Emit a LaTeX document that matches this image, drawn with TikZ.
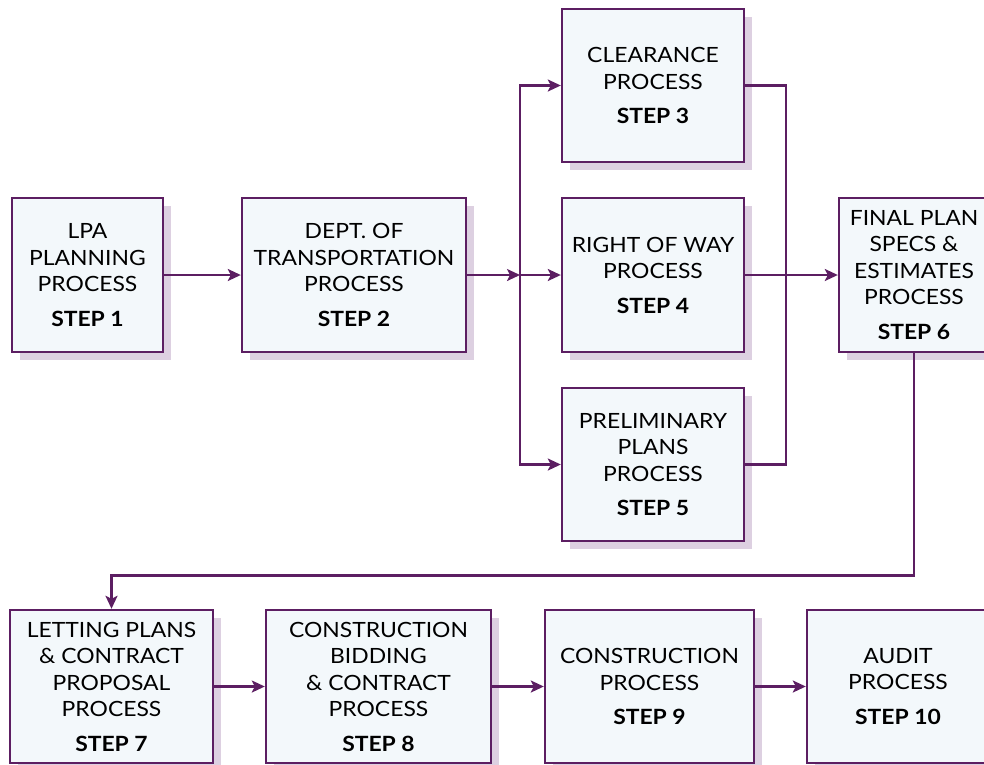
\documentclass[tikz,border=0pt]{standalone}
\usepackage{fontspec}
\setmainfont{Lato}[FakeStretch=1.09]
\usetikzlibrary{arrows.meta,shadows}
\definecolor{pline}{RGB}{92,30,98}
\definecolor{pfill}{RGB}{243,248,251}
\definecolor{pshad}{RGB}{221,208,225}
\begin{document}
\begin{tikzpicture}[x=1pt,y=-1pt,
  box/.style={draw=pline,fill=pfill,line width=2.4pt,inner sep=0pt,align=center,
    font=\fontsize{21}{26.5}\selectfont,
    drop shadow={shadow xshift=8pt,shadow yshift=-8pt,fill=pshad,opacity=1}},
  conn/.style={draw=pline,line width=2.2pt},
  arr/.style={conn,-{Stealth[length=13pt,width=12pt,inset=3pt]}}]
\useasboundingbox (0,0) rectangle (984,764);
\clip (0,0) rectangle (984,764);

\node[box,minimum width=151pt,minimum height=154pt] (s1) at (87.5,275)
  {LPA\\PLANNING\\PROCESS\\[8pt]\textbf{STEP 1}};
\node[box,minimum width=224pt,minimum height=154pt] (s2) at (354,275)
  {DEPT. OF\\TRANSPORTATION\\PROCESS\\[8pt]\textbf{STEP 2}};
\node[box,minimum width=182pt,minimum height=153pt] (s3) at (653,85.5)
  {CLEARANCE\\PROCESS\\[8pt]\textbf{STEP 3}};
\node[box,minimum width=182pt,minimum height=154pt] (s4) at (653,275)
  {RIGHT OF WAY\\PROCESS\\[8pt]\textbf{STEP 4}};
\node[box,minimum width=182pt,minimum height=153pt] (s5) at (653,464.5)
  {PRELIMINARY\\PLANS\\PROCESS\\[8pt]\textbf{STEP 5}};
\node[box,minimum width=150pt,minimum height=154pt] (s6) at (914,275)
  {FINAL PLAN\\SPECS \&\\ESTIMATES\\PROCESS\\[8pt]\textbf{STEP 6}};
\node[box,minimum width=203pt,minimum height=153pt] (s7) at (111.5,686.5)
  {LETTING PLANS\\\& CONTRACT\\PROPOSAL\\PROCESS\\[8pt]\textbf{STEP 7}};
\node[box,minimum width=225pt,minimum height=153pt] (s8) at (378.5,686.5)
  {CONSTRUCTION\\BIDDING\\\& CONTRACT\\PROCESS\\[8pt]\textbf{STEP 8}};
\node[box,minimum width=209pt,minimum height=153pt] (s9) at (649.5,686.5)
  {CONSTRUCTION\\PROCESS\\[8pt]\textbf{STEP 9}};
\node[box,minimum width=182pt,minimum height=153pt] (s10) at (898,686.5)
  {AUDIT\\PROCESS\\[8pt]\textbf{STEP 10}};

\coordinate (j1) at (520,275);
\coordinate (j2) at (786,275);
\coordinate (m) at (0,575.5);

\draw[arr] (s1.east) -- (s2.west);
\draw[arr] (s2.east) -- (j1);
\draw[arr] (j1) -- (s4.west);
\draw[arr] (j1) |- (s3.west);
\draw[arr] (j1) |- (s5.west);
\draw[conn] (s3.east) -| (j2);
\draw[conn] (s5.east) -| (j2);
\draw[arr] (s4.east) -- (s6.west);
\draw[arr] (s6.south) -- (s6.south |- m) -| (s7.north);
\draw[arr] (s7.east) -- (s8.west);
\draw[arr] (s8.east) -- (s9.west);
\draw[arr] (s9.east) -- (s10.west);
\end{tikzpicture}
\end{document}
